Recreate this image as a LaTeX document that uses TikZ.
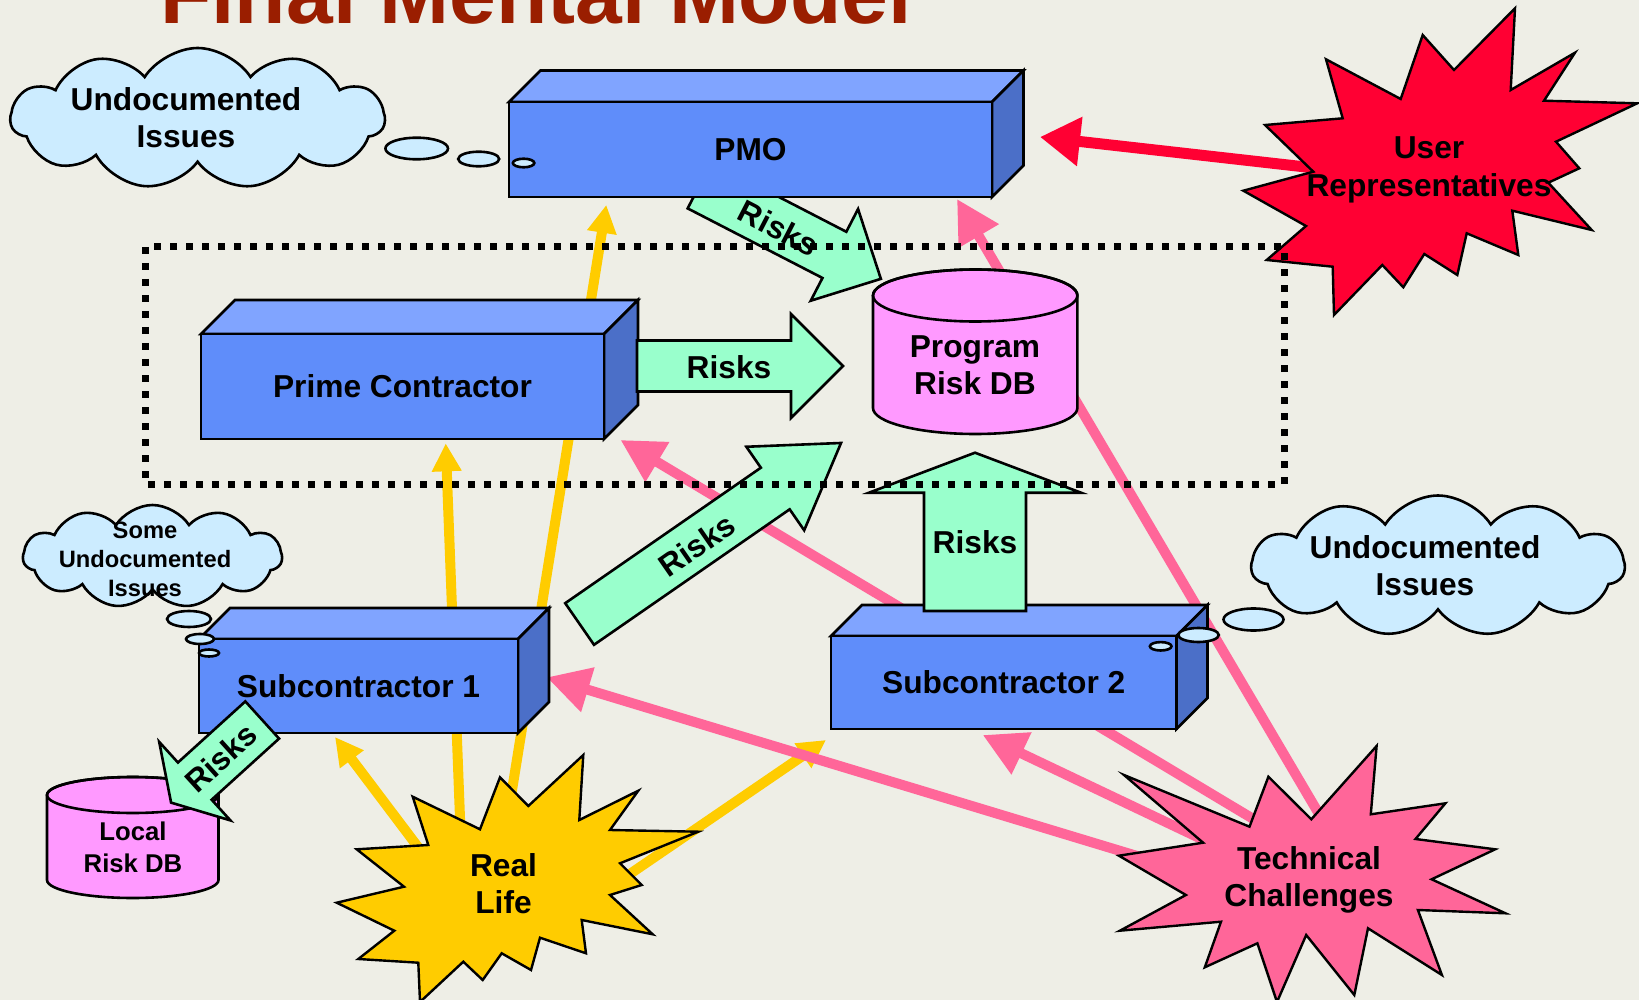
\documentclass[tikz,border=0pt]{standalone}
\usepackage{fontspec}
\setmainfont{Liberation Sans}
\usetikzlibrary{arrows.meta,shapes.symbols}
\pgfdeclarelayer{bg}
\pgfdeclarelayer{canvas}
\pgfsetlayers{canvas,bg,main}
\definecolor{bgc}{HTML}{EEEEE6}
\definecolor{frontc}{HTML}{5F8DFA}
\definecolor{topc}{HTML}{80A4FF}
\definecolor{sidec}{HTML}{4B6FC8}
\definecolor{greenc}{HTML}{99FFCC}
\definecolor{dbc}{HTML}{FF99FF}
\definecolor{cloudc}{HTML}{CCECFF}
\definecolor{redc}{HTML}{FF0033}
\definecolor{yellc}{HTML}{FFCC00}
\definecolor{pinkc}{HTML}{FF6699}
\definecolor{titlec}{HTML}{9A1E00}
\tikzset{
  outl/.style={draw=black, line width=2.6pt, line join=miter},
  frontbox/.style={outl, fill=frontc, inner sep=0pt, outer sep=0pt, align=center, font=\bfseries\fontsize{31.7}{37.5}\selectfont},
  riskarrow/.style={outl, fill=greenc},
  risklabel/.style={inner sep=0pt, font=\bfseries\fontsize{31.7}{37.5}\selectfont},
  txt/.style={inner sep=0pt, align=center, font=\bfseries\fontsize{31.7}{37.5}\selectfont},
  bubble/.style={outl, fill=cloudc},
  cloudbox/.style={cloud, cloud puffs=11, cloud puff arc=115, cloud ignores aspect, outl, fill=cloudc, inner sep=0pt},
  dbshape/.style={outl, fill=dbc},
  starshape/.style={draw=black, line width=2.4pt, line join=miter},
  yline/.style={draw=yellc, line width=10pt, -{Triangle[length=28pt,width=28pt]}},
  pline/.style={draw=pinkc, line width=10pt, -{Triangle[length=43pt,width=44pt]}},
  rline/.style={draw=redc, line width=11pt, -{Triangle[length=40pt,width=47pt]}},
  dottedbox/.style={draw=black, line width=7pt, dash pattern=on 7pt off 9pt}
}
% #1 name, #2 left, #3 top, #4 right, #5 bottom, #6 depth, #7 text
\newcommand\cuboid[7]{%
  \filldraw[outl, fill=topc] (#2,#3) -- ({#2+#6},{#3-#6}) -- ({#4+#6},{#3-#6}) -- (#4,#3) -- cycle;
  \filldraw[outl, fill=sidec] (#4,#3) -- ({#4+#6},{#3-#6}) -- ({#4+#6},{#5-#6}) -- (#4,#5) -- cycle;
  \node[frontbox, minimum width={#4-#2}, minimum height={#5-#3}, anchor=north west] (#1) at (#2,#3) {#7};
}
% #1 name, #2 tail x, #3 tail y, #4 angle, #5 length, #6 shaft hw, #7 head hw, #8 head length
\newcommand\blockarrow[8]{%
  \begin{scope}[shift={(#2,#3)}, rotate=#4]
    \filldraw[riskarrow] (0,{-#6}) -- ({#5-#8},{-#6}) -- ({#5-#8},{-#7}) -- (#5,0) -- ({#5-#8},{#7}) -- ({#5-#8},{#6}) -- (0,{#6}) -- cycle;
    \coordinate (#1) at ({#5/2},0);
  \end{scope}
}
% #1 cx, #2 top centre y, #3 bottom centre y, #4 rx, #5 ry
\newcommand\dbcyl[5]{%
  \filldraw[dbshape] ({#1-#4},#2) -- ({#1-#4},#3) arc[start angle=180, end angle=360, x radius=#4pt, y radius=#5pt]
     -- ({#1+#4},#2) arc[start angle=0, end angle=180, x radius=#4pt, y radius=#5pt] -- cycle;
  \draw[outl] (#1,#2) ellipse[x radius=#4pt, y radius=#5pt];
}
\begin{document}
\begin{tikzpicture}[x=1pt, y=-1pt]
\useasboundingbox (0,0) rectangle (1639,1000);
\begin{pgfonlayer}{canvas}
  \fill[bgc] (0,0) rectangle (1639,1000);
\end{pgfonlayer}

% title (cut off at the top)
\node[anchor=base, inner sep=0pt, text=titlec, font=\bfseries\fontsize{84}{90}\selectfont] (title) at (536,24) {Final Mental Model};

% connector end points
\coordinate (y1s) at (504,840);   \coordinate (y1e) at (606.3,204.9);
\coordinate (y2s) at (461.6,860); \coordinate (y2e) at (445.7,443.3);
\coordinate (y3s) at (435.3,870); \coordinate (y3e) at (335,737);
\coordinate (y4s) at (600,894.4); \coordinate (y4e) at (826,740);
\coordinate (r1s) at (1350,172);  \coordinate (r1e) at (1040,137);
\coordinate (p1s) at (1265,826);  \coordinate (p1e) at (620.5,440);
\coordinate (p2s) at (1329,831);  \coordinate (p2e) at (957,199);
\coordinate (p3s) at (1180,869);  \coordinate (p3e) at (546.7,677.3);
\coordinate (p4s) at (1230,852.5); \coordinate (p4e) at (982.7,735);

\begin{pgfonlayer}{bg}
  \draw[yline] (y1s) -- (y1e);
  \draw[yline] (y2s) -- (y2e);
  \draw[yline] (y3s) -- (y3e);
  \draw[yline] (y4s) -- (y4e);
  \draw[pline] (p1s) -- (p1e);
  \draw[pline] (p2s) -- (p2e);
  \draw[pline] (p3s) -- (p3e);
  \draw[pline] (p4s) -- (p4e);
  \draw[rline] (r1s) -- (r1e);
\end{pgfonlayer}

% Risks arrow PMO -> Program DB (behind the PMO box)
\blockarrow{a1}{699.6}{185.3}{-27.3}{204}{26}{51.6}{52.3}
\node[risklabel, rotate=-27.3] (a1t) at (778.7,227.9) {Risks};

% boxes
\cuboid{pmo}{509}{102}{992}{197}{31.5}{PMO}
\cuboid{prime}{201}{334}{604}{439}{34}{Prime Contractor}
\cuboid{sub1}{199}{639}{518}{733}{31}{Subcontractor 1}
\cuboid{sub2}{831}{636}{1176.5}{729}{31}{Subcontractor 2}

% databases
\dbcyl{975.2}{295.5}{408}{102.2}{26}
\node[txt] (pdb) at (975,365) {Program\\Risk DB};
\dbcyl{132.75}{795}{880}{85.75}{18}
\node[txt, font=\bfseries\fontsize{25.7}{31.6}\selectfont] (ldb) at (133,847.5) {Local\\Risk DB};

% other Risks arrows
\blockarrow{a2}{637}{366}{0}{206}{25.5}{52}{52}
\node[risklabel] (a2t) at (729,367) {Risks};
\blockarrow{a3}{579.6}{624}{34.7}{318}{25.3}{50.8}{80}
\node[risklabel, rotate=34.7] (a3t) at (697.2,545) {Risks};
\blockarrow{a4}{975}{611}{90}{158.3}{51}{106}{40}
\node[risklabel] (a4t) at (975,542.5) {Risks};
\blockarrow{a5}{262.2}{720}{222.2}{123}{25.1}{53}{32}
\node[risklabel, rotate=42.2] (a5t) at (221,758) {Risks};

% thought clouds
\node[cloudbox, minimum width=374pt, minimum height=141pt] (c1) at (197.6,118.5) {};
\node[txt] (c1t) at (186,117.5) {Undocumented\\Issues};
\filldraw[bubble] (416.7,148.5) ellipse[x radius=31.3pt, y radius=10.8pt];
\filldraw[bubble] (478.7,159) ellipse[x radius=20.5pt, y radius=7.3pt];
\filldraw[bubble] (523.6,163) ellipse[x radius=10.7pt, y radius=4.3pt];

\node[cloudbox, minimum width=373pt, minimum height=141pt] (c2) at (1438,566) {};
\node[txt] (c2t) at (1425,565.5) {Undocumented\\Issues};
\filldraw[bubble] (1253.5,619.5) ellipse[x radius=30pt, y radius=11pt];
\filldraw[bubble] (1198.5,635) ellipse[x radius=20.3pt, y radius=7pt];
\filldraw[bubble] (1160.7,646.3) ellipse[x radius=10.8pt, y radius=4.2pt];

\node[cloudbox, minimum width=259pt, minimum height=103pt] (c3) at (152.5,556.5) {};
\node[txt, font=\bfseries\fontsize{23.7}{29}\selectfont] (c3t) at (145,559.5) {Some\\Undocumented\\Issues};
\filldraw[bubble] (189,619) ellipse[x radius=22pt, y radius=8pt];
\filldraw[bubble] (200,639) ellipse[x radius=14pt, y radius=5pt];
\filldraw[bubble] (209,653) ellipse[x radius=10pt, y radius=3.5pt];

% starbursts
\filldraw[starshape, fill=yellc] (500,777.3) -- (528.3,806) -- (583.3,755) -- (579.3,820) -- (638.3,790.7) -- (610,830) -- (698.3,831.7) -- (620,863.3) -- (641.7,885) -- (610,895) -- (652.7,934.3) -- (581.7,920) -- (586,953.3) -- (540,937.7) -- (531,970) -- (501.7,953.3) -- (482.7,980) -- (463.3,961.7) -- (420,1002) -- (418.3,962.7) -- (358.3,959) -- (394.3,930.7) -- (336.7,902.7) -- (404,886.7) -- (356.7,849.3) -- (428.3,845) -- (412.7,796.7) -- (480,829.3) -- cycle;
\node[txt] (rl) at (503.5,883.5) {Real\\Life};

\filldraw[starshape, fill=pinkc] (1376.6,746) -- (1370.8,814.3) -- (1445.4,803.3) -- (1415.5,839) -- (1495.2,849.3) -- (1431.6,879.3) -- (1505.5,913.3) -- (1417.9,910) -- (1441.9,975) -- (1368,928.3) -- (1354.3,995) -- (1306.2,935) -- (1277,1002) -- (1257.4,943.3) -- (1204.8,967.3) -- (1221,921.7) -- (1119.9,930.7) -- (1185.9,895) -- (1118.9,855.7) -- (1203.1,842.7) -- (1124,775) -- (1249.5,826.7) -- (1268.4,776.7) -- (1311.3,819.3) -- cycle;
\node[txt] (tc) at (1309,880) {Technical\\Challenges};

\filldraw[starshape, fill=redc] (1515,8.3) -- (1510.7,90) -- (1575,52.7) -- (1544,100.7) -- (1637.3,103.3) -- (1556,141.7) -- (1579.3,168.3) -- (1548.3,182.7) -- (1591.7,230) -- (1512.3,210.7) -- (1518.3,255) -- (1466.7,233.3) -- (1457.3,275) -- (1424.3,254) -- (1403.3,287.3) -- (1382.3,265) -- (1334,315) -- (1332.7,266.7) -- (1266.7,260) -- (1306,226) -- (1243.3,190.7) -- (1313.3,171.7) -- (1265,125) -- (1342.7,118.3) -- (1326,59.3) -- (1400.7,99) -- (1422.7,35) -- (1454,70) -- cycle;
\node[txt] (ur) at (1429,170) {User\\Representatives};

% dotted boundary
\draw[dottedbox] (145,247) rectangle (1284,484);
\end{tikzpicture}
\end{document}
